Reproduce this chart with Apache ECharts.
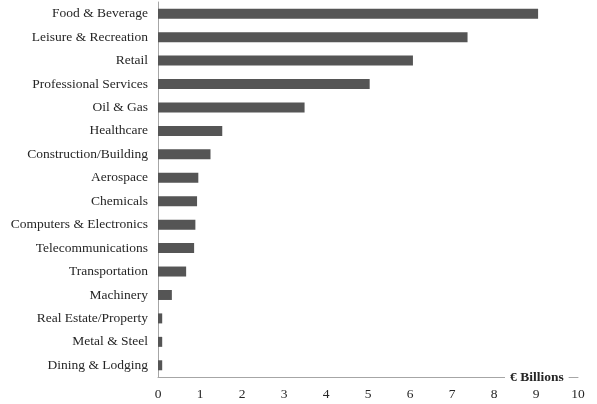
<!DOCTYPE html>
<html>
<head>
<meta charset="utf-8">
<script src="https://cdn.jsdelivr.net/npm/echarts@6/dist/echarts.min.js"></script>
<style>
  html, body { margin: 0; padding: 0; background: #ffffff; }
  #chart { width: 597px; height: 404px; }
</style>
</head>
<body>
<div id="chart"></div>
<script>
// Sectors, listed top to bottom
const sectors = [
  'Food & Beverage', 'Leisure & Recreation', 'Retail', 'Professional Services',
  'Oil & Gas', 'Healthcare', 'Construction/Building', 'Aerospace', 'Chemicals',
  'Computers & Electronics', 'Telecommunications', 'Transportation', 'Machinery',
  'Real Estate/Property', 'Metal & Steel', 'Dining & Lodging'
];
// Value per sector, € billions
const billions = [
  9.05, 7.37, 6.07, 5.04, 3.49, 1.53, 1.25, 0.96, 0.93,
  0.89, 0.86, 0.67, 0.33, 0.10, 0.10, 0.10
];
const xTicks = [0, 1, 2, 3, 4, 5, 6, 7, 8, 9, 10];
const unitLabel = '€ Billions';

const font = '"Liberation Serif", serif';
const chart = echarts.init(document.getElementById('chart'), null, { renderer: 'canvas' });
chart.setOption({
  animation: false,
  backgroundColor: '#ffffff',
  grid: { left: 158, right: 19, top: 2, height: 375, containLabel: false },
  xAxis: {
    type: 'value',
    min: xTicks[0],
    max: xTicks[xTicks.length - 1],
    interval: 1,
    splitLine: { show: false },
    axisLine: { show: true, lineStyle: { color: '#a6a6a6', width: 1 } },
    axisTick: { show: false },
    axisLabel: { color: '#262626', fontFamily: font, fontSize: 13.5, margin: 10 }
  },
  yAxis: {
    type: 'category',
    inverse: true,
    data: sectors,
    axisLine: { show: true, lineStyle: { color: '#a6a6a6', width: 1 } },
    axisTick: { show: false },
    axisLabel: { color: '#262626', fontFamily: font, fontSize: 13.5, margin: 10 }
  },
  series: [{
    type: 'bar',
    data: billions,
    barWidth: 10,
    itemStyle: { color: '#555555' }
  }],
  graphic: [{
    type: 'text',
    z: 100,
    left: 505,
    top: 371,
    style: {
      text: unitLabel,
      font: 'bold 13.5px ' + font,
      fill: '#262626',
      backgroundColor: '#ffffff',
      padding: [0, 5, 0, 5]
    }
  }]
});
</script>
</body>
</html>
